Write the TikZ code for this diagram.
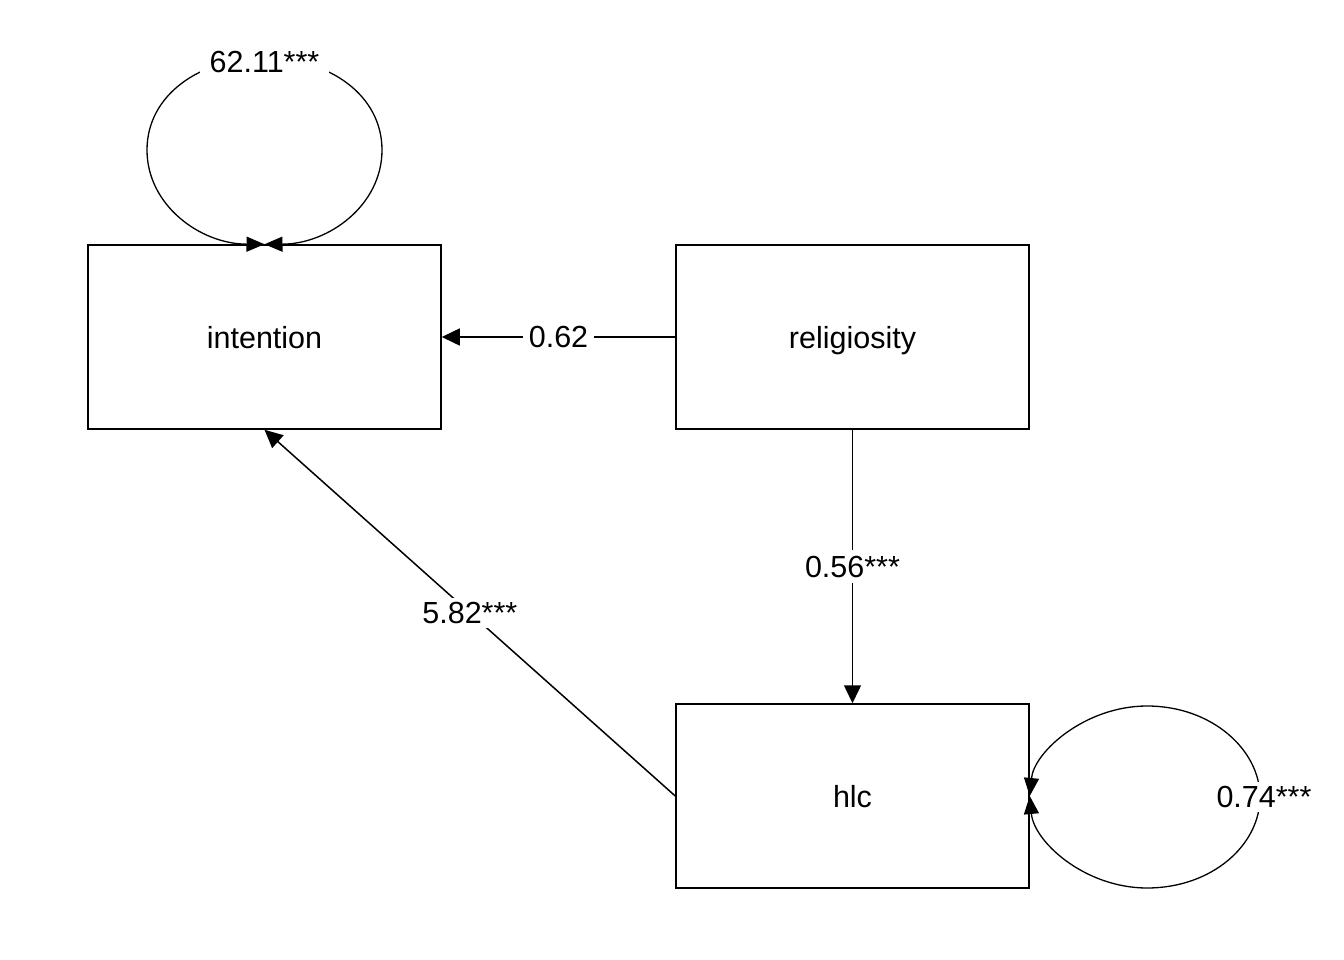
\documentclass[tikz,border=0pt]{standalone}
\usepackage{fontspec}
\setmainfont{Liberation Sans}
\usetikzlibrary{arrows.meta}
\begin{document}
\begin{tikzpicture}[x=1pt,y=-1pt,
  box/.style={draw,line width=1.5pt,minimum width=353pt,minimum height=184pt,inner sep=0pt,text height=28pt,text depth=5pt,font=\fontsize{30.5}{36}\selectfont},
  lbl/.style={fill=white,inner sep=6pt,font=\fontsize{30.5}{36}\selectfont},
  arr/.style={line width=1.5pt,-{Triangle[length=18pt,width=17pt]}},
  loop/.style={line width=1.3pt,{Triangle[length=18pt,width=15pt]}-{Triangle[length=18pt,width=15pt]}}]
\useasboundingbox (0,0) rectangle (1344,960);
\node[box] (int) at (264.5,337) {intention};
\node[box] (rel) at (852.5,337) {religiosity};
\node[box] (hlc) at (852.5,796) {hlc};
\draw[arr] (rel.west) -- node[lbl] (l1) {0.62} (int.east);
\draw[arr] (rel.south) -- node[lbl] (l2) {0.56***} (hlc.north);
\draw[arr] (hlc.west) -- node[lbl,inner sep=4pt] (l3) {5.82***} (int.south);
\draw[loop] (int.north) .. controls (200,244) and (147,205) .. (147,150)
  .. controls (147,95) and (200,58) .. (264.5,58) node[lbl,inner xsep=10pt,inner ysep=4pt,yshift=-4pt] (l4) {62.11***}
  .. controls (329,58) and (382,95) .. (382,150)
  .. controls (382,205) and (329,244) .. (int.north);
\draw[loop] (hlc.east) .. controls (1034,752) and (1085,706) .. (1147,706)
  .. controls (1212,706) and (1260,750) .. (1260,797) node[lbl,inner sep=4pt,xshift=4pt] (l5) {0.74***}
  .. controls (1260,845) and (1212,888) .. (1147,888)
  .. controls (1085,888) and (1034,842) .. (hlc.east);
\end{tikzpicture}
\end{document}
